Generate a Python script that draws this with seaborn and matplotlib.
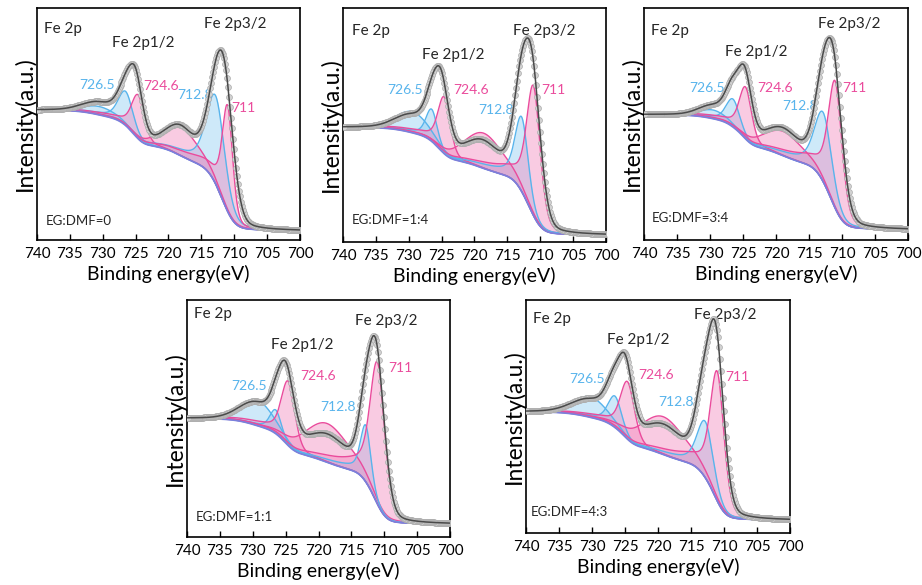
import numpy as np
import matplotlib
matplotlib.use("Agg")
import matplotlib.pyplot as plt
import seaborn as sns

sns.set_theme(style="white")
plt.rcParams["font.family"] = ["Lato", "DejaVu Sans"]

# ---- samples -------------------------------------------------------------
sample_labels = ["EG:DMF=0", "EG:DMF=1:4", "EG:DMF=3:4", "EG:DMF=1:1", "EG:DMF=4:3"]

# labelled component positions (eV)
blue_centers = [726.5, 712.8]
pink_centers = [724.6, 711.0]
blue_labels = ["726.5", "712.8"]
pink_labels = ["724.6", "711"]

# broad satellites (eV) per sample
blue_sat_centers = [730.5, 729.5, 729.5, 729.4, 730.3]
pink_sat_centers = [718.2, 718.6, 718.9, 718.7, 719.2]

# component apex intensities (a.u.): [sat, 726.5, 724.6, sat, 712.8, 711]
comp_apex = [
    [0.575, 0.64, 0.625, 0.49, 0.62, 0.58],
    [0.557, 0.567, 0.62, 0.465, 0.533, 0.666],
    [0.56, 0.607, 0.659, 0.468, 0.547, 0.683],
    [0.579, 0.536, 0.657, 0.479, 0.471, 0.736],
    [0.585, 0.587, 0.649, 0.499, 0.477, 0.692],
]
comp_widths = [
    [6.0, 2.6, 2.3, 6.5, 3.2, 1.8],
    [6.0, 2.0, 2.2, 7.0, 2.3, 2.4],
    [5.0, 2.4, 2.2, 7.0, 3.0, 2.4],
    [6.0, 2.0, 2.4, 8.0, 1.8, 2.6],
    [6.0, 2.4, 2.5, 8.0, 2.8, 2.4],
]
# fraction of each component carried in its high-binding-energy tail
comp_tail = [0.0, 0.1, 0.12, 0.0, 0.12, 0.14]

# fitted envelope peaks (centre eV, height, FWHM) per sample
fit_centers = [
    [730.5, 726.4, 724.9, 718.2, 712.8, 711.3],
    [729.5, 726.5, 725.0, 718.8, 713.0, 711.2],
    [729.5, 726.6, 724.7, 719.0, 713.0, 711.2],
    [729.5, 726.5, 724.9, 718.7, 713.0, 711.2],
    [730.3, 726.8, 724.9, 719.2, 713.2, 711.2],
]
fit_heights = [
    [0.05, 0.15, 0.20, 0.12, 0.32, 0.41],
    [0.07, 0.13, 0.26, 0.11, 0.33, 0.57],
    [0.05, 0.14, 0.25, 0.11, 0.31, 0.54],
    [0.09, 0.07, 0.28, 0.11, 0.20, 0.62],
    [0.07, 0.14, 0.27, 0.12, 0.28, 0.66],
]
fit_widths = [
    [6.0, 3.0, 2.4, 5.5, 3.4, 3.0],
    [6.0, 2.6, 2.6, 6.5, 2.8, 3.0],
    [5.0, 2.6, 2.4, 6.5, 3.0, 3.0],
    [6.0, 2.4, 2.8, 7.5, 2.4, 2.9],
    [6.5, 2.8, 2.6, 7.5, 2.8, 2.8],
]
# intensity at the high- and low-binding-energy ends of the window
level_high = [0.56, 0.49, 0.54, 0.50, 0.52]
level_low = [0.04, 0.03, 0.045, 0.055, 0.055]

x_ticks = [740, 735, 730, 725, 720, 715, 710, 705, 700]

# ---- layout ----------------------------------------------------------------
W, H = 922, 585
axes_px = [  # left, top, right, bottom in pixels
    (37, 8, 300, 240),
    (343, 8, 606, 242),
    (644, 8, 908, 240),
    (187, 300, 450, 537),
    (526, 300, 790, 533),
]
# text anchors (x in eV at left edge, y in axes fraction)
txt_fe = [(739.0, 0.91), (738.6, 0.90), (738.9, 0.90), (739.0, 0.94), (738.9, 0.92)]
txt_p12 = [(728.6, 0.85), (728.0, 0.80), (727.7, 0.81), (727.3, 0.81), (727.7, 0.83)]
txt_p32 = [(714.6, 0.93), (714.1, 0.90), (713.6, 0.93), (714.4, 0.91), (714.6, 0.935)]
txt_b1 = [(733.6, 0.668), (733.3, 0.65), (733.1, 0.655), (733.2, 0.636), (733.5, 0.663)]
txt_p1 = [(723.9, 0.664), (723.2, 0.65), (722.9, 0.655), (722.8, 0.679), (723.0, 0.678)]
txt_b2 = [(718.7, 0.625), (719.4, 0.564), (719.1, 0.576), (719.7, 0.55), (719.9, 0.563)]
txt_p2 = [(710.4, 0.567), (709.8, 0.65), (710.0, 0.655), (709.4, 0.714), (709.8, 0.67)]
txt_eg = [(738.7, 0.084), (738.6, 0.096), (738.9, 0.094), (738.7, 0.086), (739.3, 0.09)]

PINK_LINE = "#ea4b9c"
PINK_FILL = "#f27fb8"
BLUE_LINE = "#58b4ec"
BLUE_FILL = "#86c9f2"
BG_LINE = "#7b80dc"
FIT_LINE = "#4a4a4a"


def pseudo_voigt(x, c, h, w, eta=0.2):
    t = (x - c) / w
    return h * ((1 - eta) * np.exp(-4 * np.log(2) * t ** 2) + eta / (1 + 4 * t ** 2))


def tail(x, c, w, decay=7.0):
    # smooth step on the high-binding-energy side that fades out slowly
    step = 1.0 / (1.0 + np.exp(-(x - c) / (0.35 * w)))
    return step * np.exp(-np.clip(x - c, 0, None) / decay)


def shirley(x, signal, lo, hi):
    # x ascending; background rises toward high binding energy
    cum = np.concatenate([[0], np.cumsum(0.5 * (signal[1:] + signal[:-1]) * np.diff(x))])
    return lo + (hi - lo) * cum / cum[-1]


fig = plt.figure(figsize=(W / 100, H / 100), dpi=100)
x = np.linspace(700, 740, 801)

for i in range(5):
    l, t, r, b = axes_px[i]
    ax = fig.add_axes([l / W, 1 - b / H, (r - l) / W, (b - t) / H])

    fit_sum = np.zeros_like(x)
    for c, h, w in zip(fit_centers[i], fit_heights[i], fit_widths[i]):
        fit_sum += pseudo_voigt(x, c, h, w)
    bg = shirley(x, fit_sum, level_low[i], level_high[i])
    envelope = bg + fit_sum

    centers = [blue_sat_centers[i], blue_centers[0], pink_centers[0],
               pink_sat_centers[i], blue_centers[1], pink_centers[1]]
    kinds = ["b", "b", "p", "p", "b", "p"]
    for c, top, w, f, k in zip(centers, comp_apex[i], comp_widths[i], comp_tail, kinds):
        h = max(top - np.interp(c, x, bg), 0.0) / (1 + 0.5 * f)
        comp = bg + pseudo_voigt(x, c, h, w, eta=0.3) + h * f * tail(x, c, w)
        fc, lc = (BLUE_FILL, BLUE_LINE) if k == "b" else (PINK_FILL, PINK_LINE)
        ax.fill_between(x, bg, comp, color=fc, alpha=0.4, linewidth=0, zorder=2)
        sns.lineplot(x=x, y=comp, ax=ax, color=lc, lw=1.0, zorder=3)

    sns.lineplot(x=x, y=bg, ax=ax, color=BG_LINE, lw=1.2, zorder=3)

    xs = x[::3]
    ax.scatter(xs, envelope[::3], s=18, facecolor="#d2d2d2", edgecolor="#ababab",
               linewidth=0.5, zorder=4)
    sns.lineplot(x=x, y=envelope, ax=ax, color=FIT_LINE, lw=1.1, zorder=5)

    ax.set_xlim(740, 700)
    ax.set_ylim(0, 1)
    ax.set_xticks(x_ticks)
    ax.set_xticklabels([str(v) for v in x_ticks])
    ax.set_yticks([])
    ax.tick_params(axis="x", direction="in", length=4, width=1.0, pad=5,
                   labelsize=11, color="black", labelcolor="black", bottom=True)
    for s in ax.spines.values():
        s.set_color("black")
        s.set_linewidth(1.2)
    ax.set_xlabel("Binding energy(eV)", fontsize=14, labelpad=3, color="black")
    ax.set_ylabel("Intensity(a.u.)", fontsize=16.5, labelpad=1, color="black")

    tr = ax.get_xaxis_transform()
    ax.text(*txt_fe[i], "Fe 2p", transform=tr, fontsize=11, va="center", ha="left")
    ax.text(*txt_p12[i], "Fe 2p1/2", transform=tr, fontsize=11, va="center", ha="left")
    ax.text(*txt_p32[i], "Fe 2p3/2", transform=tr, fontsize=11, va="center", ha="left")
    ax.text(*txt_b1[i], blue_labels[0], transform=tr, fontsize=10, va="center",
            ha="left", color=BLUE_LINE)
    ax.text(*txt_p1[i], pink_labels[0], transform=tr, fontsize=10, va="center",
            ha="left", color=PINK_LINE)
    ax.text(*txt_b2[i], blue_labels[1], transform=tr, fontsize=10, va="center",
            ha="left", color=BLUE_LINE)
    ax.text(*txt_p2[i], pink_labels[1], transform=tr, fontsize=10, va="center",
            ha="left", color=PINK_LINE)
    ax.text(*txt_eg[i], sample_labels[i], transform=tr, fontsize=9.5, va="center",
            ha="left")

fig.savefig("out.png", dpi=100, facecolor="white")
